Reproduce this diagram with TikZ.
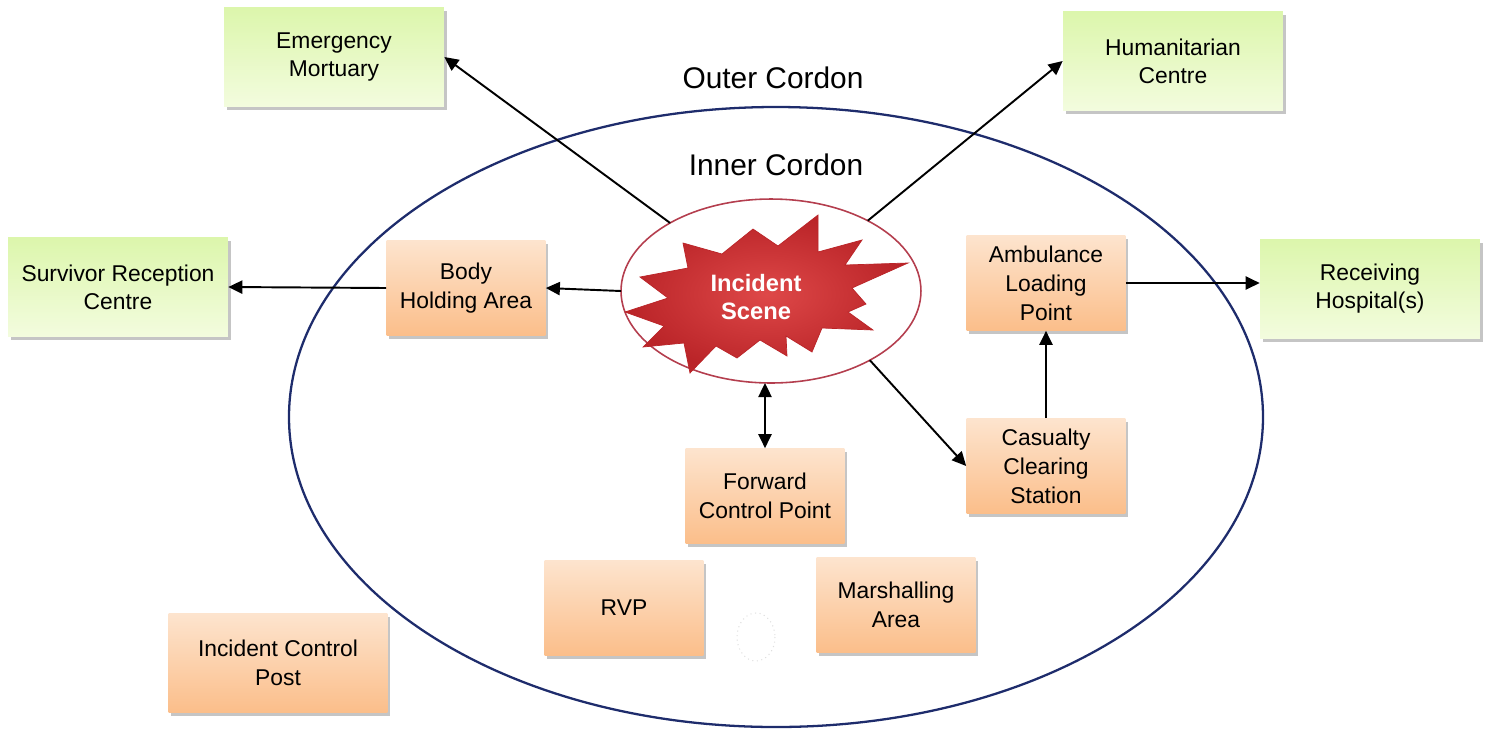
\documentclass[tikz,border=0pt]{standalone}
\usepackage{fontspec}
\setmainfont{Liberation Sans}
\usepackage{xcolor}
\usetikzlibrary{
  positioning,
  calc,
  arrows.meta,
  shapes.geometric,
  shadows
}
\definecolor{cordonblue}{RGB}{30,44,108}
\definecolor{ringred}{RGB}{180,62,78}
\definecolor{starlight}{RGB}{222,72,72}
\definecolor{stardark}{RGB}{186,36,40}
\definecolor{greentop}{RGB}{220,246,172}
\definecolor{greenbot}{RGB}{243,252,222}
\definecolor{orangetop}{RGB}{253,228,206}
\definecolor{orangebot}{RGB}{251,190,138}

\begin{document}
\begin{tikzpicture}[
      x=0.02cm, y=-0.02cm,
      outerbox/.style={rectangle, top color=greentop, bottom color=greenbot, minimum width=4.4cm, minimum height=1.98cm, align=center, font=\fontsize{13}{16}\selectfont, drop shadow={shadow xshift=1.5pt, shadow yshift=-2pt, fill=black!45, opacity=0.5}},
      innerbox/.style={rectangle, top color=orangetop, bottom color=orangebot, minimum width=3.18cm, minimum height=1.9cm, align=center, font=\fontsize{13}{16.5}\selectfont, drop shadow={shadow xshift=1.5pt, shadow yshift=-2pt, fill=black!45, opacity=0.5}},
      cordonlabel/.style={font=\fontsize{17}{20}\selectfont},
      arrow/.style={-{Triangle[length=8pt,width=7.5pt]}, line width=1.1pt},
      dblarrow/.style={{Triangle[length=8pt,width=7.5pt]}-{Triangle[length=8pt,width=7.5pt]}, line width=1.1pt}
    ]
      \useasboundingbox (0,0) rectangle (1489,728);

      % Cordons
      \draw[cordonblue, line width=1.3pt] (776,417) ellipse [x radius=487, y radius=310];
      \node[cordonlabel] (outerlabel) at (773,78) {Outer Cordon};
      \node[cordonlabel] (innerlabel) at (776,165) {Inner Cordon};

      % Incident scene
      \node[ellipse, draw=ringred, line width=0.9pt, fill=white, minimum width=6cm, minimum height=3.68cm, inner sep=0pt, outer sep=0pt] (scene) at (771,291) {};
      \draw[draw=stardark, line width=0.4pt, inner color=starlight, outer color=stardark]
        (625,312) -- (668,298) -- (640,277) -- (688,268) -- (683,243) -- (722,254)
        -- (753,229) -- (778,246) -- (818,215) -- (818,252) -- (862,240) -- (845,265)
        -- (908,263) -- (852,288) -- (866,304) -- (848,312) -- (873,330) -- (822,328)
        -- (812,352) -- (786,336) -- (787,356) -- (760,340) -- (737,358) -- (716,346)
        -- (690,373) -- (684,343) -- (643,347) -- (664,326) -- cycle;
      \node[font=\bfseries\fontsize{13.5}{16}\selectfont, text=white, align=center] (scenetext) at (756,297) {Incident\\Scene};

      % Outside the inner cordon
      \node[outerbox] (mortuary) at (334,57) {Emergency\\Mortuary};
      \node[outerbox] (humanitarian) at (1173,61) {Humanitarian\\Centre};
      \node[outerbox] (survivor) at (118,287) {Survivor Reception\\Centre};
      \node[outerbox] (hospital) at (1370,289) {Receiving\\Hospital(s)};

      % Inside the cordons
      \node[innerbox] (body) at (466,288) {Body\\Holding Area};
      \node[innerbox] (ambulance) at (1046,283) {Ambulance\\Loading\\Point};
      \node[innerbox] (casualty) at (1046,466) {Casualty\\Clearing\\Station};
      \node[innerbox] (forward) at (765,496) {Forward\\Control Point};
      \node[innerbox] (rvp) at (624,608) {RVP};
      \node[innerbox] (marshalling) at (896,605) {Marshalling\\Area};
      \node[innerbox, minimum width=4.38cm, minimum height=1.98cm] (controlpost) at (278,663) {Incident Control\\Post};
      \draw[gray!25, dotted, line width=0.6pt] (756,637) ellipse [x radius=19, y radius=24];

      % Arrows
      \draw[arrow] (scene.146) -- (mortuary.east);
      \draw[arrow] (scene.36) -- (humanitarian.west);
      \draw[arrow] (scene.west) -- (body.east);
      \draw[arrow] (body.west) -- (survivor.east);
      \draw[arrow] (scene.-35) -- (casualty.west);
      \draw[arrow] (casualty.north) -- (ambulance.south);
      \draw[arrow] (ambulance.east) -- (ambulance.east -| hospital.west);
      \draw[dblarrow] (forward.north |- scene.south) -- (forward.north);
    \end{tikzpicture}
\end{document}
